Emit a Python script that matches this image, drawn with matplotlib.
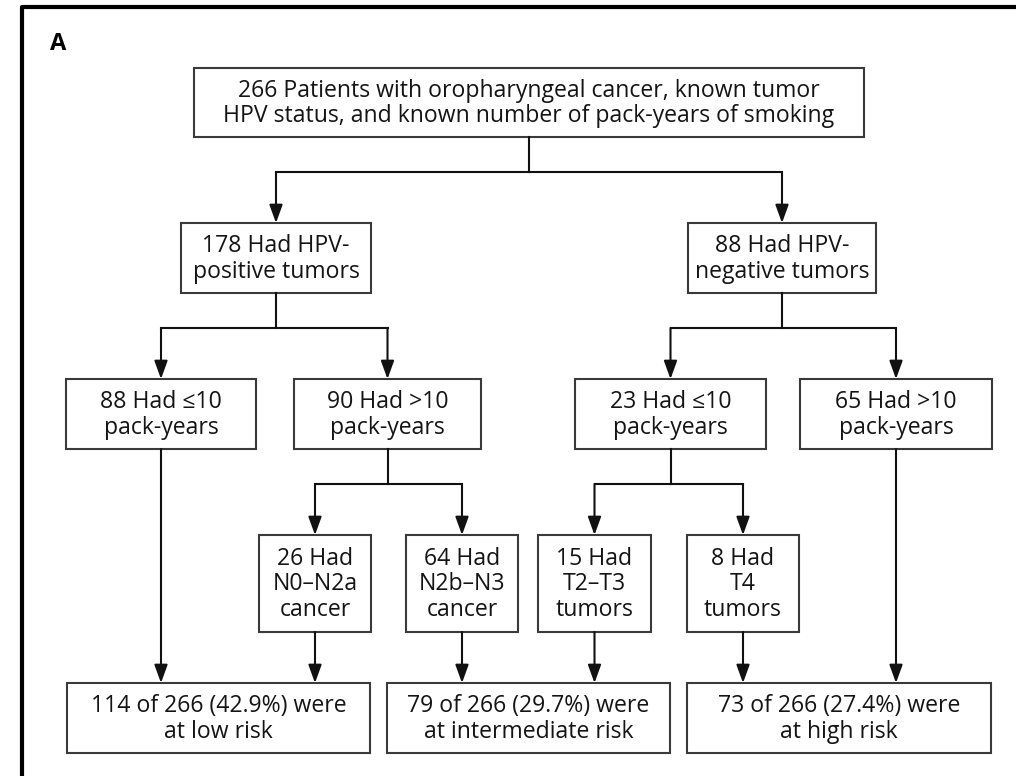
import matplotlib.pyplot as plt
from matplotlib.patches import Rectangle

plt.rcParams["font.family"] = ["Open Sans", "DejaVu Sans"]

# Anzahl Patienten je Knoten
total = 266
hpv_counts = [178, 88]
pack_counts = [88, 90, 23, 65]
stage_counts = [26, 64, 15, 8]
risk_counts = [114, 79, 73]
risk_pct = [42.9, 29.7, 27.4]
risk_names = ["low", "intermediate", "high"]

top_label = (f"{total} Patients with oropharyngeal cancer, known tumor\n"
             "HPV status, and known number of pack-years of smoking")
hpv_labels = [f"{hpv_counts[0]} Had HPV-\npositive tumors",
              f"{hpv_counts[1]} Had HPV-\nnegative tumors"]
pack_labels = [f"{pack_counts[0]} Had \u226410\npack-years",
               f"{pack_counts[1]} Had >10\npack-years",
               f"{pack_counts[2]} Had \u226410\npack-years",
               f"{pack_counts[3]} Had >10\npack-years"]
stage_labels = [f"{stage_counts[0]} Had\nN0\u2013N2a\ncancer",
                f"{stage_counts[1]} Had\nN2b\u2013N3\ncancer",
                f"{stage_counts[2]} Had\nT2\u2013T3\ntumors",
                f"{stage_counts[3]} Had\nT4\ntumors"]
risk_labels = [f"{n} of {total} ({p}%) were\nat {r} risk"
               for n, p, r in zip(risk_counts, risk_pct, risk_names)]

# Layout in Pixeln (links, oben, rechts, unten)
boxes = {
    "top": (194, 68, 864, 137),
    "pos": (181, 223, 371, 293),
    "neg": (688, 223, 876, 293),
    "le10a": (66, 379, 256, 449),
    "gt10a": (294, 379, 481, 449),
    "le10b": (575, 379, 766, 449),
    "gt10b": (800, 379, 992, 449),
    "n0": (259, 535, 371, 632),
    "n2b": (406, 535, 518, 632),
    "t23": (538, 535, 651, 632),
    "t4": (687, 535, 799, 632),
    "low": (67, 683, 370, 753),
    "mid": (387, 683, 670, 753),
    "high": (687, 683, 991, 753),
}
texts = {"top": top_label}
texts.update(zip(["pos", "neg"], hpv_labels))
texts.update(zip(["le10a", "gt10a", "le10b", "gt10b"], pack_labels))
texts.update(zip(["n0", "n2b", "t23", "t4"], stage_labels))
texts.update(zip(["low", "mid", "high"], risk_labels))

line_col = "#111111"
box_col = "#3a3a3a"

fig = plt.figure(figsize=(10.16, 7.76), dpi=100)
ax = fig.add_axes([0, 0, 1, 1])
ax.set_xlim(0, 1016)
ax.set_ylim(776, 0)
ax.axis("off")

# Rahmen (nur links und oben sichtbar)
ax.plot([22, 22, 1030], [790, 7, 7], color="black", lw=3, solid_capstyle="butt")
ax.text(50, 50, "A", fontsize=17, fontweight="bold", ha="left", va="baseline")

for key, (l, t, r, b) in boxes.items():
    ax.add_patch(Rectangle((l, t), r - l, b - t, fill=False,
                           edgecolor=box_col, lw=1.5))
    ax.text((l + r) / 2, (t + b) / 2 + 1, texts[key], ha="center", va="center",
            fontsize=16.6, linespacing=1.08, color="#141414")


def cx(k):
    return (boxes[k][0] + boxes[k][2]) / 2


def arrow(x, y0, y1):
    ax.annotate("", xy=(x, y1), xytext=(x, y0),
                arrowprops=dict(arrowstyle="-|>,head_length=1.1,head_width=0.4",
                                lw=1.5, color=line_col, shrinkA=0, shrinkB=0))


def split(parent, children, ymid):
    x0 = cx(parent)
    ax.plot([x0, x0], [boxes[parent][3], ymid], color=line_col, lw=1.5)
    xs = [cx(c) for c in children]
    ax.plot([min(xs), max(xs)], [ymid, ymid], color=line_col, lw=1.5,
            solid_capstyle="projecting")
    for c in children:
        arrow(cx(c), ymid, boxes[c][1])


split("top", ["pos", "neg"], 172)
split("pos", ["le10a", "gt10a"], 328)
split("neg", ["le10b", "gt10b"], 328)
split("gt10a", ["n0", "n2b"], 484)
split("le10b", ["t23", "t4"], 484)

for src, dst in [("le10a", "low"), ("n0", "low"), ("n2b", "mid"),
                 ("t23", "mid"), ("t4", "high"), ("gt10b", "high")]:
    arrow(cx(src), boxes[src][3], boxes[dst][1])

fig.savefig("out.png", dpi=100, facecolor="white")
